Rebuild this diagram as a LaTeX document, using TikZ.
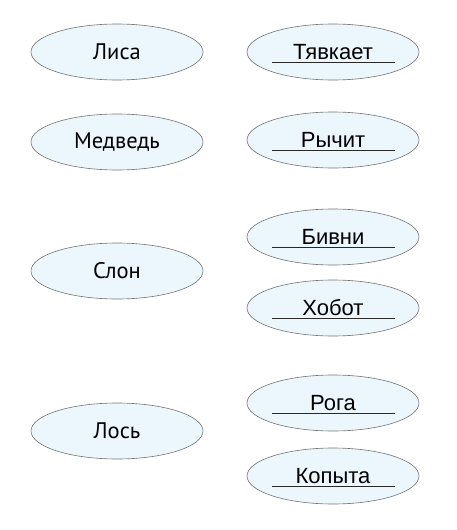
\documentclass[tikz,border=0pt]{standalone}
\usepackage{fontspec}
\usepackage{tikz}
\usetikzlibrary{shapes.geometric}
\newfontfamily\animalfont{PT Sans}
\newfontfamily\signfont{Liberation Sans}
\definecolor{fieldfill}{RGB}{236,247,253}
\definecolor{fieldline}{RGB}{115,115,115}
\definecolor{answerline}{RGB}{40,40,40}

\begin{document}
\begin{tikzpicture}[x=1pt, y=-1pt,
		field/.style={ellipse, draw=fieldline, fill=fieldfill, line width=0.6pt,
			minimum width=172pt, minimum height=56pt, inner sep=0pt},
		animal/.style={field, font=\animalfont\fontsize{22.5pt}{26pt}\selectfont},
		answer/.style={field, font=\signfont\fontsize{22pt}{26pt}\selectfont,
			path picture={\draw[answerline, line width=0.7pt]
				([xshift=-61pt, yshift=-10pt]path picture bounding box.center) -- ++(123pt,0);}}]
			\useasboundingbox (0,0) rectangle (457,530);
			% animals
			\node[animal] (lisa) at (117,52) {Лиса};
			\node[animal] (medved) at (117,142) {Медведь};
			\node[animal] (slon) at (117,271) {Слон};
			\node[animal] (los) at (117,431) {Лось};
			% signs
			\node[answer] (tyavkaet) at (333,52) {Тявкает};
			\node[answer] (rychit) at (333,140) {Рычит};
			\node[answer] (bivni) at (333,237) {Бивни};
			\node[answer] (hobot) at (333,308) {Хобот};
			\node[answer] (roga) at (333,403) {Рога};
			\node[answer] (kopyta) at (333,476) {Копыта};
			\end{tikzpicture}
\end{document}
